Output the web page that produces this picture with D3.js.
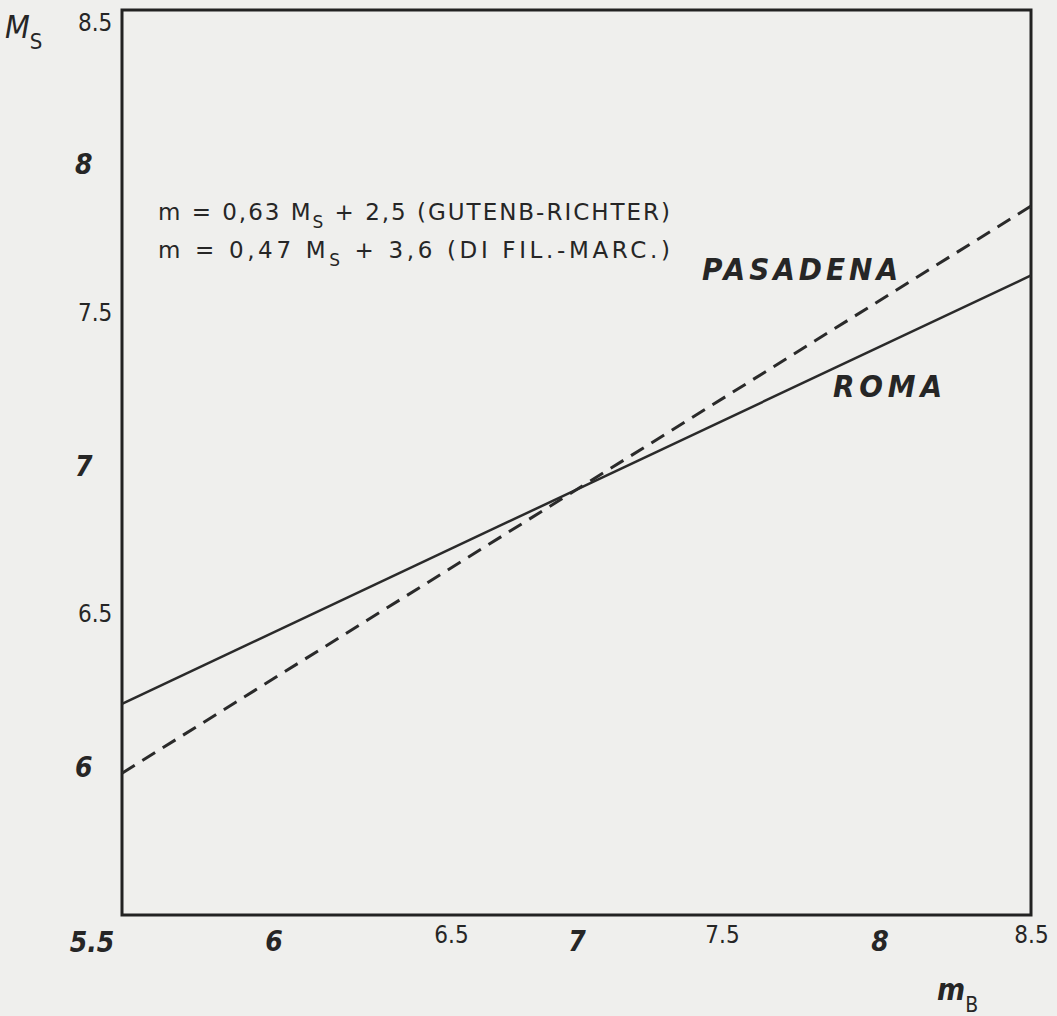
<!DOCTYPE html>
<html><head><meta charset="utf-8">
<script src="https://cdn.jsdelivr.net/npm/d3@7"></script>
<style>
html,body{margin:0;padding:0;background:#efefed;}
svg{display:block;}
text{font-family:"DejaVu Sans Condensed","DejaVu Sans",sans-serif;fill:#262626;}
</style></head><body>
<svg id="chart" width="1057" height="1016"></svg>
<script>
// ---- data ----
const xTicks = [6, 6.5, 7, 7.5, 8, 8.5];
const yTicks = [6, 6.5, 7, 7.5, 8, 8.5];
const cornerTick = 5.5;
const romaLine = [[5.5, 6.20], [8.5, 7.62]];      // solid
const pasadenaLine = [[5.5, 5.97], [8.5, 7.85]];  // dashed
const formulaGR = ["m = 0,63 M", "S", " + 2,5 (GUTENB-RICHTER)"];
const formulaDM = ["m = 0,47 M", "S", " + 3,6 (DI FIL.-MARC.)"];
const seriesLabels = ["PASADENA", "ROMA"];

// ---- layout ----
const svg = d3.select("#chart");
const L = 122, R = 1031, T = 10, B = 915;
const x = d3.scaleLinear().domain([5.5, 8.5]).range([L, R]);
const y = d3.scaleLinear().domain([5.5, 8.5]).range([B, T]);
const isInt = v => Math.abs(v - Math.round(v)) < 1e-9;
const fmt = v => isInt(v) ? String(v) : v.toFixed(1);
const FONT = '"DejaVu Sans Condensed","DejaVu Sans",sans-serif';

// frame
svg.append("rect").attr("x", L).attr("y", T).attr("width", R - L).attr("height", B - T)
  .attr("fill", "none").attr("stroke", "#222").attr("stroke-width", 3);

// lines
const line = d3.line().x(d => x(d[0])).y(d => y(d[1]));
svg.append("path").datum(romaLine).attr("d", line)
  .attr("fill", "none").attr("stroke", "#2a2a2a").attr("stroke-width", 2.5);
svg.append("path").datum(pasadenaLine).attr("d", line)
  .attr("fill", "none").attr("stroke", "#2a2a2a").attr("stroke-width", 3)
  .attr("stroke-dasharray", "15,9");

// x axis labels
const xAxis = d3.axisBottom(x).tickValues(xTicks).tickSize(0).tickFormat(fmt);
const gx = svg.append("g").attr("transform", `translate(0,${B})`).call(xAxis);
gx.select(".domain").remove();
gx.selectAll("text")
  .attr("fill", "#262626")
  .attr("dy", null).attr("y", d => isInt(d) ? 36 : 28)
  .attr("dx", d => d === 6.5 ? 26 : (d === 7.5 ? -6 : 0))
  .style("font-family", FONT)
  .style("font-size", d => isInt(d) ? "28px" : "24px")
  .style("font-weight", d => isInt(d) ? "bold" : "normal")
  .style("font-style", d => isInt(d) ? "italic" : "normal");

// y axis labels
const yAxis = d3.axisLeft(y).tickValues(yTicks).tickSize(0).tickFormat(fmt);
const gy = svg.append("g").attr("transform", `translate(${L},0)`).call(yAxis);
gy.select(".domain").remove();
gy.selectAll("text")
  .attr("fill", "#262626")
  .attr("text-anchor", "start")
  .attr("x", d => isInt(d) ? -47 : -44)
  .attr("dy", d => d === 8.5 ? "0.85em" : (isInt(d) ? "0.45em" : "0.35em"))
  .style("font-family", FONT)
  .style("font-size", d => isInt(d) ? "28px" : "24px")
  .style("font-weight", d => isInt(d) ? "bold" : "normal")
  .style("font-style", d => isInt(d) ? "italic" : "normal");

// shared corner label 5.5
svg.append("text").attr("x", x(cornerTick) - 30).attr("y", y(cornerTick) + 37)
  .attr("text-anchor", "middle").style("font-size", "28px").style("font-weight", "bold")
  .style("font-style", "italic").text(fmt(cornerTick));

// axis titles
const ms = svg.append("text").attr("x", 5).attr("y", 38).style("font-size", "32px").style("font-style", "italic");
ms.append("tspan").text("M");
ms.append("tspan").attr("dy", 11).style("font-size", "22px").style("font-style", "normal").text("S");
const mb = svg.append("text").attr("x", 937).attr("y", 1000).style("font-size", "30px").style("font-style", "italic").style("font-weight", "bold");
mb.append("tspan").text("m");
mb.append("tspan").attr("dy", 12).style("font-size", "21px").style("font-style", "normal").style("font-weight", "normal").text("B");

// formulas
function formula(parts, yy) {
  const t = svg.append("text").attr("x", 158).attr("y", yy)
    .style("font-family", '"DejaVu Sans",sans-serif').style("font-size", "23px")
    .attr("textLength", 512).attr("lengthAdjust", "spacing");
  t.append("tspan").text(parts[0]);
  t.append("tspan").attr("dy", 8).style("font-size", "17px").text(parts[1]);
  t.append("tspan").attr("dy", -8).text(parts[2]);
}
formula(formulaGR, 220);
formula(formulaDM, 258);

// series labels
svg.append("text").attr("x", 702).attr("y", 280).style("font-size", "31px")
  .style("font-weight", "bold").style("font-style", "italic")
  .attr("textLength", 196).attr("lengthAdjust", "spacing").text(seriesLabels[0]);
svg.append("text").attr("x", 833).attr("y", 397).style("font-size", "31px")
  .style("font-weight", "bold").style("font-style", "italic")
  .attr("textLength", 109).attr("lengthAdjust", "spacing").text(seriesLabels[1]);
</script>
</body></html>
